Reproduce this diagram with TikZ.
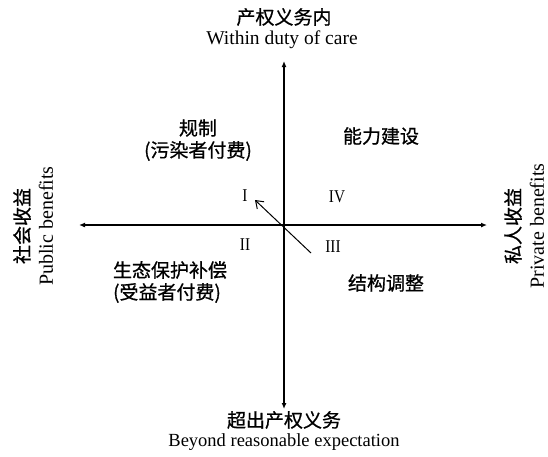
\documentclass[tikz,border=0pt]{standalone}
\usepackage{fontspec}
\setmainfont{Liberation Serif}
\newfontfamily\cjk[FakeBold=0.8]{Noto Sans CJK SC}
\usetikzlibrary{arrows.meta}
\begin{document}
\begin{tikzpicture}[x=1pt,y=-1pt,
  axis/.style={line width=1.2pt,{Latex[length=6pt,width=5pt]}-{Latex[length=6pt,width=5pt]}},
  zh/.style={font=\cjk\fontsize{19}{22}\selectfont,inner sep=0pt},
  en/.style={font=\fontsize{18.5}{20}\selectfont,inner sep=0pt},
  env/.style={font=\fontsize{20}{22}\selectfont,inner sep=0pt,rotate=90},
  rn/.style={font=\fontsize{18}{20}\selectfont,inner sep=0pt,xscale=0.85}]
\useasboundingbox (0,0) rectangle (548,456);
\coordinate (L) at (79,225);
\coordinate (R) at (487,225);
\coordinate (T) at (284,61);
\coordinate (B) at (284,409);
\draw[axis] (L) -- (R);
\draw[axis] (T) -- (B);
\coordinate (ds) at (311,253);
\coordinate (de) at (255,200);
\draw[line width=1pt,-{Straight Barb[length=7pt,width=10pt]}] (ds) -- (de);
\node[zh] (t1) at (284,17) {产权义务内};
\node[en,font=\fontsize{19.5}{22}\selectfont] (t2) at (282,40) {Within duty of care};
\node[zh] (b1) at (284,420) {超出产权义务};
\node[en] (b2) at (284,442) {Beyond reasonable expectation};
\node[zh,rotate=90] (l1) at (22,226) {社会收益};
\node[env] (l2) at (46,226) {Public benefits};
\node[zh,rotate=90] (r1) at (513,226) {私人收益};
\node[env] (r2) at (537,226) {Private benefits};
\node[zh] (q1a) at (198,128) {规制};
\node[zh] (q1b) at (198,151) {(污染者付费)};
\node[zh] (q4) at (381,136) {能力建设};
\node[zh] (q2a) at (170,270) {生态保护补偿};
\node[zh] (q2b) at (167,293) {(受益者付费)};
\node[zh] (q3) at (386,283) {结构调整};
\node[rn] (n1) at (245,196) {I};
\node[rn] (n4) at (337,197) {IV};
\node[rn] (n2) at (245,245) {II};
\node[rn] (n3) at (333,247) {III};
\end{tikzpicture}
\end{document}
